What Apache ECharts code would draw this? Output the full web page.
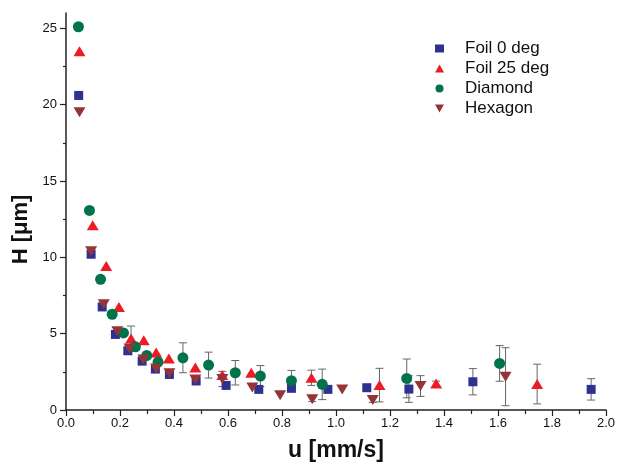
<!DOCTYPE html>
<html>
<head>
<meta charset="utf-8">
<script src="https://cdn.jsdelivr.net/npm/echarts@6/dist/echarts.min.js"></script>
<style>
html,body{margin:0;padding:0;background:#fff;}
#main{width:618px;height:462px;}
</style>
</head>
<body>
<div id="main"></div>
<script>
// Foil 0 deg
var foil0X = [0.047, 0.093, 0.134, 0.183, 0.229, 0.282, 0.331, 0.383, 0.482, 0.593, 0.714, 0.835, 0.97, 1.114, 1.27, 1.507, 1.945];
var foil0Y = [20.6, 10.2, 6.75, 4.95, 3.88, 3.2, 2.68, 2.33, 1.9, 1.61, 1.35, 1.42, 1.35, 1.46, 1.37, 1.85, 1.35];
var foil0Err = [0, 0, 0, 0, 0.15, 0, 0, 0, 0, 0, 0, 0, 0, 0, 0.87, 0.86, 0.7];
// Foil 25 deg
var foil25X = [0.05, 0.099, 0.149, 0.196, 0.241, 0.288, 0.334, 0.381, 0.479, 0.579, 0.686, 0.909, 1.161, 1.371, 1.745];
var foil25Y = [23.5, 12.1, 9.43, 6.75, 4.68, 4.57, 3.77, 3.38, 2.79, 2.29, 2.44, 2.11, 1.63, 1.74, 1.7];
var foil25Err = [0, 0, 0, 0, 0.82, 0, 0, 0, 0, 0, 0, 0.5, 1.1, 0.15, 1.3];
// Diamond
var diamondX = [0.046, 0.087, 0.128, 0.171, 0.213, 0.257, 0.299, 0.341, 0.433, 0.528, 0.627, 0.72, 0.835, 0.949, 1.262, 1.606];
var diamondY = [25.1, 13.07, 8.56, 6.27, 5.05, 4.14, 3.57, 3.14, 3.42, 2.94, 2.44, 2.22, 1.92, 1.68, 2.07, 3.05];
var diamondErr = [0, 0, 0, 0, 0, 0, 0, 0, 0.98, 0.85, 0.8, 0.69, 0.67, 1.0, 1.27, 1.17];
// Hexagon
var hexX = [0.05, 0.093, 0.14, 0.19, 0.235, 0.287, 0.334, 0.383, 0.479, 0.579, 0.69, 0.793, 0.912, 1.023, 1.136, 1.313, 1.628];
var hexY = [19.5, 10.4, 6.93, 5.16, 4.03, 3.31, 2.72, 2.4, 2.0, 2.03, 1.48, 0.96, 0.7, 1.35, 0.65, 1.57, 2.18];
var hexErr = [0, 0, 0, 0, 0, 0, 0, 0, 0, 0.5, 0, 0, 0.15, 0, 0.15, 0.68, 1.9];

var yMajor = [0, 5, 10, 15, 20, 25];
var yMinor = [2.5, 7.5, 12.5, 17.5, 22.5];

var FONT = 'Liberation Sans, Arial, sans-serif';

function pts(xs, ys) {
	var out = [];
	for (var i = 0; i < xs.length; i++) out.push([xs[i], ys[i]]);
	return out;
}
function errs(xs, ys, es) {
	var out = [];
	for (var i = 0; i < xs.length; i++) {
		if (es[i] > 0) out.push([xs[i], ys[i], es[i]]);
	}
	return out;
}

function errRender(params, api) {
	var x = api.value(0), y = api.value(1), e = api.value(2);
	var top = api.coord([x, y + e]);
	var bot = api.coord([x, y - e]);
	var hw = 4;
	var st = { stroke: '#666', lineWidth: 1 };
	return {
		type: 'group',
		children: [
			{ type: 'line', shape: { x1: top[0], y1: top[1], x2: bot[0], y2: bot[1] }, style: st },
			{ type: 'line', shape: { x1: top[0] - hw, y1: top[1], x2: top[0] + hw, y2: top[1] }, style: st },
			{ type: 'line', shape: { x1: bot[0] - hw, y1: bot[1], x2: bot[0] + hw, y2: bot[1] }, style: st }
		]
	};
}

function errSeries(data) {
	return {
		type: 'custom',
		renderItem: errRender,
		data: data,
		encode: { x: 0, y: 1 },
		z: 1,
		silent: true
	};
}

var downTri = 'path://M0,0 L10,0 L5,9 Z';

var myChart = echarts.init(document.getElementById('main'));
myChart.setOption({
	animation: false,
	textStyle: { fontFamily: FONT },
	grid: { left: 66, right: 12, top: 13, bottom: 52, outerBoundsMode: 'none' },
	legend: {
		orient: 'vertical',
		left: 430,
		top: 35,
		itemWidth: 9,
		itemHeight: 8,
		itemGap: 3,
		textStyle: { fontSize: 17, color: '#111', fontFamily: FONT, lineHeight: 17, padding: [0, 0, 0, 16] },
		data: ['Foil 0 deg', 'Foil 25 deg', 'Diamond', 'Hexagon']
	},
	xAxis: {
		type: 'value',
		min: 0,
		max: 2,
		interval: 0.2,
		name: 'u [mm/s]',
		nameLocation: 'middle',
		nameGap: 29,
		nameTextStyle: { fontSize: 23, fontWeight: 'bold', color: '#111', fontFamily: FONT },
		axisLine: { onZero: false, lineStyle: { color: '#222', width: 1.5 } },
		axisTick: { length: 6, lineStyle: { color: '#222', width: 1.2 } },
		minorTick: { show: true, splitNumber: 2, length: 4, lineStyle: { color: '#222', width: 1.2 } },
		axisLabel: { fontSize: 13, color: '#111', margin: 7, formatter: function (v) { return v.toFixed(1); } },
		splitLine: { show: false }
	},
	yAxis: [{
		type: 'value',
		min: 0,
		max: 26,
		name: 'H [μm]',
		nameLocation: 'middle',
		nameGap: 27,
		nameTextStyle: { fontSize: 22, fontWeight: 'bold', color: '#111', fontFamily: FONT, padding: [0, 36, 0, 0] },
		axisLine: { show: true, lineStyle: { color: '#222', width: 1.5 } },
		axisTick: { show: true, length: 6, customValues: yMajor, lineStyle: { color: '#222', width: 1.2 } },
		axisLabel: { fontSize: 13, color: '#111', margin: 9, customValues: yMajor },
		splitLine: { show: false }
	}, {
		type: 'value',
		min: 0,
		max: 26,
		position: 'left',
		axisLine: { show: false },
		axisTick: { show: true, length: 3, customValues: yMinor, lineStyle: { color: '#222', width: 1.2 } },
		axisLabel: { show: false },
		splitLine: { show: false }
	}],
	series: [
		errSeries(errs(foil0X, foil0Y, foil0Err)),
		errSeries(errs(foil25X, foil25Y, foil25Err)),
		errSeries(errs(diamondX, diamondY, diamondErr)),
		errSeries(errs(hexX, hexY, hexErr)),
		{
			name: 'Foil 0 deg', type: 'scatter', symbol: 'rect', symbolSize: 9, z: 3,
			itemStyle: { color: '#2e3191', opacity: 1 },
			data: pts(foil0X, foil0Y)
		},
		{
			name: 'Foil 25 deg', type: 'scatter', symbol: 'triangle', symbolSize: [12, 10], z: 3,
			itemStyle: { color: '#ed1c24', opacity: 1 },
			data: pts(foil25X, foil25Y)
		},
		{
			name: 'Diamond', type: 'scatter', symbol: 'circle', symbolSize: 11, z: 3,
			itemStyle: { color: '#00734a', opacity: 1 },
			data: pts(diamondX, diamondY)
		},
		{
			name: 'Hexagon', type: 'scatter', symbol: downTri, symbolSize: [12, 10], z: 3,
			itemStyle: { color: '#943434', opacity: 1 },
			data: pts(hexX, hexY)
		}
	]
});
</script>
</body>
</html>
